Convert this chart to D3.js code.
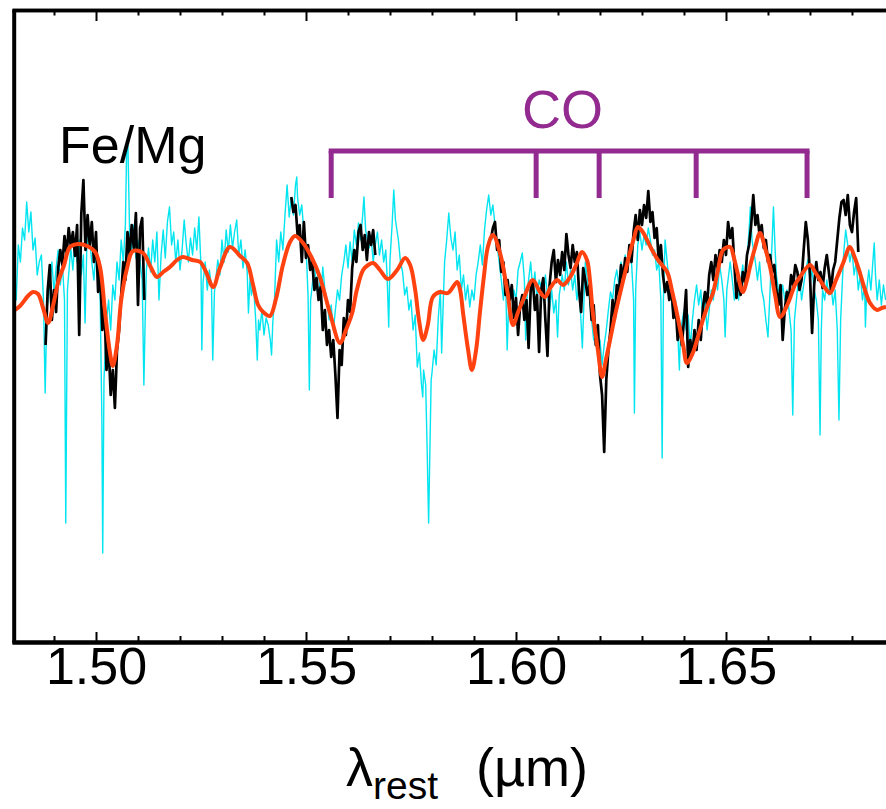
<!DOCTYPE html>
<html>
<head>
<meta charset="utf-8">
<script src="https://cdn.jsdelivr.net/npm/d3@7"></script>
<style>
  body { margin: 0; background: #fff; }
  svg { display: block; font-family: "Liberation Sans", Arial, sans-serif; }
</style>
</head>
<body>
<div id="chart"></div>
<script>
// tick labels on the wavelength axis (micron)
const majorTicks = [1.50, 1.55, 1.60, 1.65];
const minorTicks = [1.49, 1.51, 1.52, 1.53, 1.54, 1.56, 1.57, 1.58, 1.59, 1.61, 1.62, 1.63, 1.64, 1.66, 1.67, 1.68];

// CO bandhead markers (micron)
const coBands = [1.5560, 1.6048, 1.6198, 1.6429, 1.6693];

// model spectrum (cyan), [wavelength, normalised flux]
const modelSpec = [
  [1.4800,1.060],[1.4810,0.990],[1.4815,1.045],[1.4820,1.028],[1.4825,1.062],[1.4830,1.050],[1.4835,1.088],[1.4840,1.058],[1.4845,1.078],[1.4850,1.040],
  [1.4855,1.052],[1.4860,1.015],[1.4865,1.028],[1.4870,1.035],[1.4875,0.990],[1.4879,0.897],[1.4883,0.980],[1.4890,1.005],[1.4895,1.028],[1.4900,0.998],
  [1.4905,1.022],[1.4910,1.040],[1.4915,1.005],[1.4920,1.025],[1.4925,0.990],[1.4928,0.767],[1.4932,1.000],[1.4940,1.042],[1.4945,1.020],[1.4950,1.052],
  [1.4955,1.028],[1.4960,1.050],[1.4965,1.015],[1.4970,1.035],[1.4974,0.967],[1.4978,1.040],[1.4983,1.060],[1.4990,1.028],[1.4995,1.010],[1.5000,1.040],
  [1.5005,1.025],[1.5010,0.990],[1.5014,0.870],[1.5016,0.737],[1.5019,0.910],[1.5025,0.970],[1.5030,0.990],[1.5035,0.960],[1.5040,1.005],[1.5045,0.990],
  [1.5050,1.028],[1.5055,1.010],[1.5060,1.050],[1.5065,1.028],[1.5070,1.065],[1.5073,1.143],[1.5076,1.145],[1.5080,1.058],[1.5085,1.040],[1.5090,1.065],
  [1.5095,1.032],[1.5100,1.050],[1.5105,1.028],[1.5110,1.010],[1.5114,0.905],[1.5118,0.990],[1.5120,1.020],[1.5125,1.042],[1.5130,1.018],[1.5135,1.050],
  [1.5140,1.028],[1.5145,1.058],[1.5150,0.990],[1.5155,1.035],[1.5160,1.060],[1.5165,1.032],[1.5170,1.068],[1.5175,1.083],[1.5180,1.045],[1.5185,1.058],
  [1.5190,1.028],[1.5195,1.050],[1.5200,1.020],[1.5205,1.040],[1.5210,1.070],[1.5215,1.045],[1.5220,1.028],[1.5225,1.052],[1.5230,1.035],[1.5235,1.062],
  [1.5240,1.040],[1.5245,1.073],[1.5250,1.023],[1.5252,0.940],[1.5255,1.008],[1.5260,1.028],[1.5265,1.000],[1.5270,1.020],[1.5275,1.003],[1.5278,0.930],
  [1.5282,0.998],[1.5290,1.030],[1.5295,1.015],[1.5300,1.050],[1.5305,1.028],[1.5310,1.060],[1.5315,1.038],[1.5320,1.065],[1.5325,1.042],[1.5330,1.058],
  [1.5335,1.070],[1.5340,1.035],[1.5345,1.050],[1.5350,1.022],[1.5355,1.040],[1.5360,1.018],[1.5363,0.977],[1.5367,1.015],[1.5370,0.995],[1.5375,1.005],
  [1.5380,0.972],[1.5384,0.930],[1.5387,0.970],[1.5390,0.960],[1.5395,0.980],[1.5400,0.955],[1.5405,0.972],[1.5410,0.965],[1.5415,0.950],[1.5418,0.935],
  [1.5421,0.968],[1.5425,0.990],[1.5430,1.050],[1.5435,1.028],[1.5440,1.058],[1.5445,1.040],[1.5450,1.075],[1.5455,1.105],[1.5460,1.073],[1.5465,1.092],
  [1.5470,1.075],[1.5475,1.105],[1.5478,1.113],[1.5480,1.092],[1.5485,1.075],[1.5490,1.085],[1.5495,1.058],[1.5500,1.045],[1.5505,0.993],[1.5508,0.900],
  [1.5511,0.990],[1.5515,1.005],[1.5520,1.028],[1.5525,1.000],[1.5530,1.020],[1.5535,0.990],[1.5540,1.023],[1.5545,1.000],[1.5550,0.990],[1.5555,0.970],
  [1.5560,0.985],[1.5565,0.960],[1.5570,0.980],[1.5575,1.000],[1.5580,0.990],[1.5585,1.015],[1.5590,1.028],[1.5595,1.045],[1.5600,1.022],[1.5605,1.048],
  [1.5610,1.028],[1.5615,1.060],[1.5620,1.045],[1.5625,1.067],[1.5630,1.050],[1.5635,1.075],[1.5638,1.093],[1.5642,1.060],[1.5650,1.042],[1.5655,1.053],
  [1.5660,1.028],[1.5665,1.045],[1.5670,1.058],[1.5675,1.035],[1.5680,1.050],[1.5685,1.028],[1.5690,1.040],[1.5693,1.015],[1.5697,0.963],[1.5700,1.030],
  [1.5705,1.065],[1.5709,1.100],[1.5713,1.070],[1.5720,1.050],[1.5725,1.028],[1.5730,1.018],[1.5735,0.995],[1.5740,1.003],[1.5745,0.980],[1.5750,0.990],
  [1.5755,0.960],[1.5760,0.975],[1.5765,0.923],[1.5770,0.937],[1.5775,0.905],[1.5778,0.893],[1.5780,0.920],[1.5785,0.905],[1.5788,0.850],[1.5792,0.767],
  [1.5795,0.840],[1.5798,0.910],[1.5800,0.917],[1.5805,0.940],[1.5810,0.925],[1.5815,0.972],[1.5820,1.000],[1.5823,0.937],[1.5827,0.990],[1.5830,1.028],
  [1.5835,1.050],[1.5840,1.077],[1.5845,1.052],[1.5850,1.040],[1.5855,1.058],[1.5860,1.020],[1.5865,1.035],[1.5870,1.000],[1.5875,1.015],[1.5880,0.990],
  [1.5885,1.005],[1.5890,0.983],[1.5895,1.000],[1.5900,0.990],[1.5905,1.015],[1.5910,1.028],[1.5915,1.045],[1.5920,1.025],[1.5925,1.060],[1.5930,1.080],
  [1.5935,1.095],[1.5940,1.075],[1.5945,1.085],[1.5950,1.065],[1.5955,1.045],[1.5960,1.028],[1.5965,1.010],[1.5970,0.990],[1.5975,1.015],[1.5979,0.940],
  [1.5983,0.990],[1.5990,0.977],[1.5995,1.000],[1.6000,0.990],[1.6005,1.020],[1.6010,1.028],[1.6015,1.037],[1.6020,1.010],[1.6023,0.950],[1.6027,1.000],
  [1.6030,1.010],[1.6035,1.028],[1.6040,1.000],[1.6045,1.018],[1.6050,0.990],[1.6055,1.010],[1.6060,1.003],[1.6065,0.990],[1.6070,1.015],[1.6075,0.995],
  [1.6080,0.980],[1.6085,1.000],[1.6090,0.977],[1.6095,0.990],[1.6099,0.953],[1.6103,0.995],[1.6110,1.015],[1.6115,1.000],[1.6120,1.028],[1.6125,1.005],
  [1.6130,1.020],[1.6135,1.000],[1.6140,1.015],[1.6145,0.990],[1.6150,1.005],[1.6155,0.967],[1.6158,0.942],[1.6162,0.990],[1.6165,1.028],[1.6170,1.010],
  [1.6175,0.990],[1.6180,0.970],[1.6185,0.950],[1.6190,0.965],[1.6195,0.930],[1.6200,0.950],[1.6205,0.925],[1.6210,0.945],[1.6215,0.960],[1.6220,0.980],
  [1.6225,0.998],[1.6230,0.990],[1.6235,1.010],[1.6240,1.020],[1.6245,1.005],[1.6250,1.028],[1.6255,1.015],[1.6260,1.035],[1.6265,1.022],[1.6270,1.040],
  [1.6275,1.028],[1.6280,0.990],[1.6282,0.877],[1.6285,1.000],[1.6290,1.045],[1.6295,1.058],[1.6300,1.040],[1.6305,1.055],[1.6310,1.045],[1.6315,1.062],
  [1.6320,1.050],[1.6325,1.035],[1.6330,1.040],[1.6335,1.020],[1.6340,1.028],[1.6345,0.990],[1.6348,0.832],[1.6351,0.990],[1.6355,1.050],[1.6360,1.028],
  [1.6365,1.005],[1.6370,0.990],[1.6375,0.972],[1.6380,0.990],[1.6385,0.960],[1.6389,0.920],[1.6392,0.960],[1.6400,0.980],[1.6405,0.960],[1.6410,0.975],
  [1.6415,0.943],[1.6420,0.970],[1.6425,0.990],[1.6430,1.005],[1.6435,0.985],[1.6440,1.000],[1.6445,0.970],[1.6450,0.990],[1.6455,0.960],[1.6460,0.980],
  [1.6465,1.000],[1.6470,0.990],[1.6475,1.015],[1.6480,1.000],[1.6485,1.025],[1.6490,1.010],[1.6495,0.990],[1.6498,0.953],[1.6502,1.000],[1.6510,1.028],
  [1.6515,1.010],[1.6520,0.990],[1.6525,1.005],[1.6530,0.990],[1.6535,1.010],[1.6540,1.025],[1.6545,1.000],[1.6550,1.030],[1.6555,1.060],[1.6558,1.083],
  [1.6562,1.050],[1.6570,1.028],[1.6575,1.010],[1.6580,1.028],[1.6585,1.000],[1.6590,0.990],[1.6595,0.970],[1.6600,0.953],[1.6605,1.000],[1.6610,1.050],
  [1.6613,1.083],[1.6617,1.040],[1.6620,1.015],[1.6625,1.000],[1.6630,0.990],[1.6635,1.005],[1.6640,0.990],[1.6645,1.000],[1.6650,0.980],[1.6655,0.960],
  [1.6659,0.875],[1.6663,0.970],[1.6670,1.000],[1.6675,1.015],[1.6680,0.990],[1.6685,1.005],[1.6690,1.020],[1.6695,1.030],[1.6700,1.010],[1.6705,1.020],
  [1.6710,1.000],[1.6715,0.990],[1.6720,0.970],[1.6724,0.855],[1.6727,0.960],[1.6730,1.000],[1.6735,0.990],[1.6740,1.010],[1.6745,0.995],[1.6750,1.005],
  [1.6755,0.985],[1.6760,1.000],[1.6765,0.960],[1.6769,0.870],[1.6773,0.970],[1.6780,1.035],[1.6785,1.060],[1.6790,1.045],[1.6795,1.028],[1.6800,1.040],
  [1.6805,1.015],[1.6810,1.028],[1.6815,1.000],[1.6820,1.015],[1.6825,0.990],[1.6830,1.005],[1.6832,0.963],[1.6835,1.000],[1.6840,1.020],[1.6845,1.000],
  [1.6850,1.030],[1.6853,1.047],[1.6856,1.015],[1.6860,0.990],[1.6865,1.010],[1.6870,0.985],[1.6875,1.005],[1.6880,0.990]
];

// observed spectrum (black), three pieces
const obsSegA = [
  [1.4880,0.945],[1.4885,1.000],[1.4890,1.025],[1.4895,0.970],[1.4900,1.000],[1.4905,0.978],[1.4910,1.022],[1.4915,1.040],[1.4920,1.025],[1.4925,1.054],
  [1.4930,1.035],[1.4935,1.062],[1.4940,1.044],[1.4945,1.058],[1.4950,1.034],[1.4955,1.065],[1.4960,0.955],[1.4965,1.076],[1.4970,1.110],[1.4975,1.040],
  [1.4980,1.075],[1.4985,1.045],[1.4990,1.068],[1.4995,1.028],[1.5000,1.058],[1.5005,0.998],[1.5010,1.022],[1.5015,0.960],[1.5020,0.985],[1.5025,0.920],
  [1.5030,0.945],[1.5035,0.895],[1.5040,0.920],[1.5045,0.882],[1.5050,0.940],[1.5055,0.960],[1.5060,0.995],[1.5065,1.028],[1.5070,1.010],[1.5075,1.058],
  [1.5080,1.035],[1.5085,1.065],[1.5090,1.042],[1.5095,1.077],[1.5100,0.985],[1.5105,1.062],[1.5110,1.072],[1.5115,0.990]
];
const obsSegB = [
  [1.5465,1.093],[1.5470,1.078],[1.5475,1.085],[1.5480,1.055],[1.5485,1.065],[1.5490,1.028],[1.5495,1.068],[1.5500,1.032],[1.5505,1.045],[1.5510,1.020],
  [1.5515,1.028],[1.5520,1.000],[1.5525,1.012],[1.5530,0.990],[1.5535,1.003],[1.5540,0.960],[1.5545,0.980],[1.5550,0.945],[1.5555,0.960],[1.5560,0.933],
  [1.5565,0.950],[1.5570,0.915],[1.5575,0.872],[1.5580,0.940],[1.5585,0.925],[1.5590,0.972],[1.5595,0.955],[1.5600,0.990],[1.5605,0.978],[1.5610,1.022],
  [1.5615,1.040],[1.5620,1.028],[1.5625,1.058],[1.5630,1.065],[1.5635,1.040],[1.5640,1.055],[1.5645,1.030],[1.5650,1.058],[1.5655,1.045],[1.5660,1.060],
  [1.5665,1.035]
];
const obsSegC = [
  [1.5940,1.050],[1.5945,1.062],[1.5950,1.068],[1.5955,1.040],[1.5960,1.050],[1.5965,1.018],[1.5970,1.028],[1.5975,0.995],[1.5980,1.010],[1.5985,0.990],
  [1.5990,1.005],[1.5995,0.972],[1.6000,0.992],[1.6005,0.955],[1.6010,0.985],[1.6015,0.995],[1.6020,0.970],[1.6025,0.990],[1.6030,0.942],[1.6035,1.000],
  [1.6040,1.010],[1.6045,0.980],[1.6050,0.995],[1.6055,0.938],[1.6060,1.000],[1.6065,1.012],[1.6070,0.970],[1.6075,0.934],[1.6080,1.005],[1.6085,1.028],
  [1.6090,1.040],[1.6095,1.008],[1.6100,1.030],[1.6105,1.015],[1.6110,1.038],[1.6115,1.020],[1.6120,1.056],[1.6125,1.035],[1.6130,1.022],[1.6135,1.045],
  [1.6140,1.028],[1.6145,1.038],[1.6150,1.000],[1.6155,0.978],[1.6160,1.022],[1.6165,1.010],[1.6170,0.995],[1.6175,1.005],[1.6180,0.970],[1.6185,0.985],
  [1.6190,0.945],[1.6195,0.965],[1.6200,0.915],[1.6205,0.895],[1.6210,0.838],[1.6215,0.910],[1.6220,0.940],[1.6225,0.960],[1.6230,0.990],[1.6235,0.970],
  [1.6240,1.005],[1.6245,0.995],[1.6250,1.025],[1.6255,1.010],[1.6260,1.032],[1.6265,1.018],[1.6270,1.045],[1.6275,1.028],[1.6280,1.058],[1.6285,1.075],
  [1.6290,1.050],[1.6295,1.080],[1.6300,1.065],[1.6305,1.085],[1.6310,1.072],[1.6315,1.099],[1.6320,1.068],[1.6325,1.078],[1.6330,1.052],[1.6335,1.062],
  [1.6340,1.028],[1.6345,1.045],[1.6350,1.015],[1.6355,0.998],[1.6360,1.008],[1.6365,0.990],[1.6370,1.004],[1.6375,0.972],[1.6380,0.985],[1.6385,0.950],
  [1.6390,0.965],[1.6395,0.945],[1.6400,0.970],[1.6405,1.000],[1.6410,0.923],[1.6415,0.950],[1.6420,0.935],[1.6425,0.960],[1.6430,0.940],[1.6435,0.970],
  [1.6440,0.950],[1.6445,0.982],[1.6450,0.998],[1.6455,0.985],[1.6460,1.015],[1.6465,1.028],[1.6470,1.010],[1.6475,1.035],[1.6480,1.022],[1.6485,1.040],
  [1.6490,1.028],[1.6495,1.050],[1.6500,1.035],[1.6505,1.068],[1.6510,1.052],[1.6515,1.062],[1.6520,1.025],[1.6525,0.992],[1.6530,1.010],[1.6535,0.995],
  [1.6540,1.018],[1.6545,1.008],[1.6550,1.035],[1.6555,1.045],[1.6560,1.065],[1.6565,1.095],[1.6570,1.065],[1.6575,1.075],[1.6580,1.055],[1.6585,1.065],
  [1.6590,1.042],[1.6595,1.050],[1.6600,1.028],[1.6605,1.035],[1.6610,1.018],[1.6615,1.025],[1.6620,1.000],[1.6625,0.985],[1.6630,1.005],[1.6635,0.950],
  [1.6640,0.980],[1.6645,0.998],[1.6650,0.990],[1.6655,1.015],[1.6660,1.005],[1.6665,1.025],[1.6670,1.018],[1.6675,1.000],[1.6680,1.010],[1.6685,1.040],
  [1.6690,1.068],[1.6695,1.050],[1.6700,1.015],[1.6705,0.957],[1.6710,1.005],[1.6715,1.028],[1.6720,1.010],[1.6725,1.018],[1.6730,1.002],[1.6735,1.022],
  [1.6740,1.035],[1.6745,1.018],[1.6750,1.000],[1.6755,1.020],[1.6760,1.028],[1.6765,1.050],[1.6770,1.072],[1.6775,1.088],[1.6780,1.090],[1.6785,1.075],
  [1.6790,1.095],[1.6795,1.065],[1.6800,1.058],[1.6805,1.078],[1.6810,1.092],[1.6815,1.038]
];

// smoothed observed spectrum (orange)
const smoothSpec = [
  [1.4800,0.978],[1.4819,0.984],[1.4838,0.994],[1.4850,0.998],[1.4862,0.996],[1.4874,0.982],[1.4886,0.967],[1.4898,0.985],[1.4910,1.008],[1.4924,1.025],
  [1.4938,1.043],[1.4957,1.046],[1.4979,1.044],[1.4998,1.038],[1.5010,1.022],[1.5021,0.980],[1.5033,0.938],[1.5040,0.924],[1.5050,0.945],[1.5060,0.990],
  [1.5074,1.022],[1.5088,1.039],[1.5112,1.037],[1.5129,1.024],[1.5145,1.013],[1.5160,1.018],[1.5176,1.023],[1.5193,1.030],[1.5207,1.033],[1.5229,1.030],
  [1.5248,1.028],[1.5262,1.018],[1.5279,1.003],[1.5295,1.022],[1.5319,1.043],[1.5343,1.034],[1.5360,1.027],[1.5374,1.005],[1.5386,0.985],[1.5398,0.978],
  [1.5414,0.974],[1.5429,0.992],[1.5445,1.025],[1.5462,1.048],[1.5474,1.054],[1.5493,1.047],[1.5514,1.032],[1.5533,1.013],[1.5557,0.977],[1.5581,0.947],
  [1.5595,0.960],[1.5610,0.977],[1.5621,1.000],[1.5636,1.020],[1.5648,1.025],[1.5660,1.027],[1.5676,1.020],[1.5695,1.011],[1.5717,1.020],[1.5736,1.032],
  [1.5748,1.025],[1.5760,1.000],[1.5769,0.970],[1.5779,0.950],[1.5790,0.965],[1.5802,0.993],[1.5819,0.998],[1.5838,0.997],[1.5860,1.008],[1.5867,1.000],
  [1.5874,0.977],[1.5886,0.940],[1.5895,0.920],[1.5905,0.940],[1.5914,0.977],[1.5924,1.015],[1.5933,1.043],[1.5945,1.055],[1.5962,1.037],[1.5979,1.000],
  [1.5993,0.965],[1.6005,0.978],[1.6017,0.990],[1.6040,1.010],[1.6057,0.998],[1.6069,0.993],[1.6083,1.003],[1.6098,1.010],[1.6112,1.005],[1.6129,1.013],
  [1.6143,1.025],[1.6157,1.038],[1.6169,1.030],[1.6176,1.010],[1.6183,0.977],[1.6195,0.940],[1.6205,0.913],[1.6214,0.930],[1.6224,0.950],[1.6236,0.975],
  [1.6248,0.997],[1.6260,1.018],[1.6271,1.037],[1.6281,1.052],[1.6290,1.063],[1.6302,1.058],[1.6312,1.050],[1.6324,1.040],[1.6338,1.030],[1.6360,1.018],
  [1.6371,1.000],[1.6383,0.977],[1.6398,0.945],[1.6407,0.927],[1.6421,0.937],[1.6433,0.953],[1.6445,0.970],[1.6457,0.985],[1.6469,0.997],[1.6481,1.020],
  [1.6493,1.040],[1.6510,1.043],[1.6519,1.032],[1.6526,1.020],[1.6540,0.998],[1.6550,1.010],[1.6557,1.023],[1.6569,1.042],[1.6581,1.057],[1.6593,1.042],
  [1.6605,1.023],[1.6617,0.995],[1.6629,0.973],[1.6648,0.987],[1.6664,1.005],[1.6676,1.013],[1.6700,1.025],[1.6712,1.018],[1.6724,1.010],[1.6736,1.002],
  [1.6748,0.997],[1.6762,1.010],[1.6779,1.027],[1.6795,1.043],[1.6807,1.032],[1.6819,1.017],[1.6831,1.000],[1.6843,0.987],[1.6860,0.980],[1.6871,0.982],
  [1.6881,0.983]
];

const W = 886, H = 809;
const plotL = 12, plotR = 886, plotT = 10, plotB = 642;

const svg = d3.select("#chart")
  .append("svg")
  .attr("width", W)
  .attr("height", H);

const x = d3.scaleLinear().domain([1.48, 1.6881]).range([plotL, plotR]);
const y = d3.scaleLinear().domain([0.648, 1.280]).range([plotB, plotT]);

svg.append("clipPath")
  .attr("id", "plotclip")
  .append("rect")
  .attr("x", plotL + 2)
  .attr("y", plotT)
  .attr("width", plotR - plotL)
  .attr("height", plotB - plotT);

const plot = svg.append("g").attr("clip-path", "url(#plotclip)");

const line = d3.line().x(d => x(d[0])).y(d => y(d[1]));

// model (cyan)
plot.append("path")
  .datum(modelSpec)
  .attr("fill", "none")
  .attr("stroke", "#00e5f0")
  .attr("stroke-width", 1.4)
  .attr("stroke-linejoin", "round")
  .attr("d", line);

// observed (black)
plot.selectAll("path.obs")
  .data([obsSegA, obsSegB, obsSegC])
  .join("path")
  .attr("class", "obs")
  .attr("fill", "none")
  .attr("stroke", "#000")
  .attr("stroke-width", 2.7)
  .attr("stroke-linejoin", "round")
  .attr("d", line);

// smoothed (orange)
plot.append("path")
  .datum(smoothSpec)
  .attr("fill", "none")
  .attr("stroke", "#ff4210")
  .attr("stroke-width", 4)
  .attr("stroke-linejoin", "round")
  .attr("d", d3.line().curve(d3.curveCatmullRom).x(d => x(d[0])).y(d => y(d[1])));

// CO bracket
const coTop = 151, coBottom = 198;
const bracket = svg.append("g")
  .attr("stroke", "#922a90")
  .attr("stroke-width", 5)
  .attr("fill", "none");
bracket.append("line")
  .attr("x1", x(coBands[0]) - 2.5)
  .attr("x2", x(coBands[coBands.length - 1]) + 2.5)
  .attr("y1", coTop)
  .attr("y2", coTop);
bracket.selectAll("line.tick")
  .data(coBands)
  .join("line")
  .attr("class", "tick")
  .attr("x1", d => x(d))
  .attr("x2", d => x(d))
  .attr("y1", coTop)
  .attr("y2", coBottom);

svg.append("text")
  .attr("x", 522)
  .attr("y", 128)
  .attr("fill", "#922a90")
  .style("font-size", "54px")
  .text("CO");

svg.append("text")
  .attr("x", 59)
  .attr("y", 163)
  .attr("fill", "#000")
  .style("font-size", "52px")
  .text("Fe/Mg");

// axes
function styleAxis(g, width) {
  g.select(".domain").attr("stroke", "#000").attr("stroke-width", width);
  g.selectAll(".tick line").attr("stroke", "#000").attr("stroke-width", 2);
}

// bottom: major with labels, minor without
svg.append("g")
  .attr("transform", `translate(0,${plotB})`)
  .call(d3.axisBottom(x).tickValues(minorTicks).tickSizeInner(-6).tickSizeOuter(0).tickFormat(""))
  .call(g => styleAxis(g, 4));

const xAxisB = svg.append("g")
  .attr("transform", `translate(0,${plotB})`)
  .call(d3.axisBottom(x).tickValues(majorTicks).tickSizeInner(-10).tickSizeOuter(0)
    .tickPadding(5).tickFormat(d3.format(".2f")))
  .call(g => styleAxis(g, 4));
xAxisB.selectAll("text")
  .attr("fill", "#000")
  .style("font-family", "'Liberation Sans', Arial, sans-serif")
  .style("font-size", "52px");

// top: ticks only
svg.append("g")
  .attr("transform", `translate(0,${plotT})`)
  .call(d3.axisTop(x).tickValues(minorTicks).tickSizeInner(-5.5).tickSizeOuter(0).tickFormat(""))
  .call(g => styleAxis(g, 3.4));
svg.append("g")
  .attr("transform", `translate(0,${plotT})`)
  .call(d3.axisTop(x).tickValues(majorTicks).tickSizeInner(-11).tickSizeOuter(0).tickFormat(""))
  .call(g => styleAxis(g, 3.4));

// left: plain line
svg.append("g")
  .attr("transform", `translate(${plotL + 1.7},0)`)
  .call(d3.axisLeft(y).tickValues([]).tickSizeOuter(0))
  .call(g => styleAxis(g, 4));

// axis title
const title = svg.append("text")
  .attr("y", 786)
  .attr("fill", "#000")
  .style("font-size", "54px");
title.append("tspan").attr("x", 346).text("λ");
title.append("tspan").attr("x", 373).attr("dy", 13).style("font-size", "39px").text("rest");
title.append("tspan").attr("x", 476).attr("dy", -13).text("(µm)");
</script>
</body>
</html>
